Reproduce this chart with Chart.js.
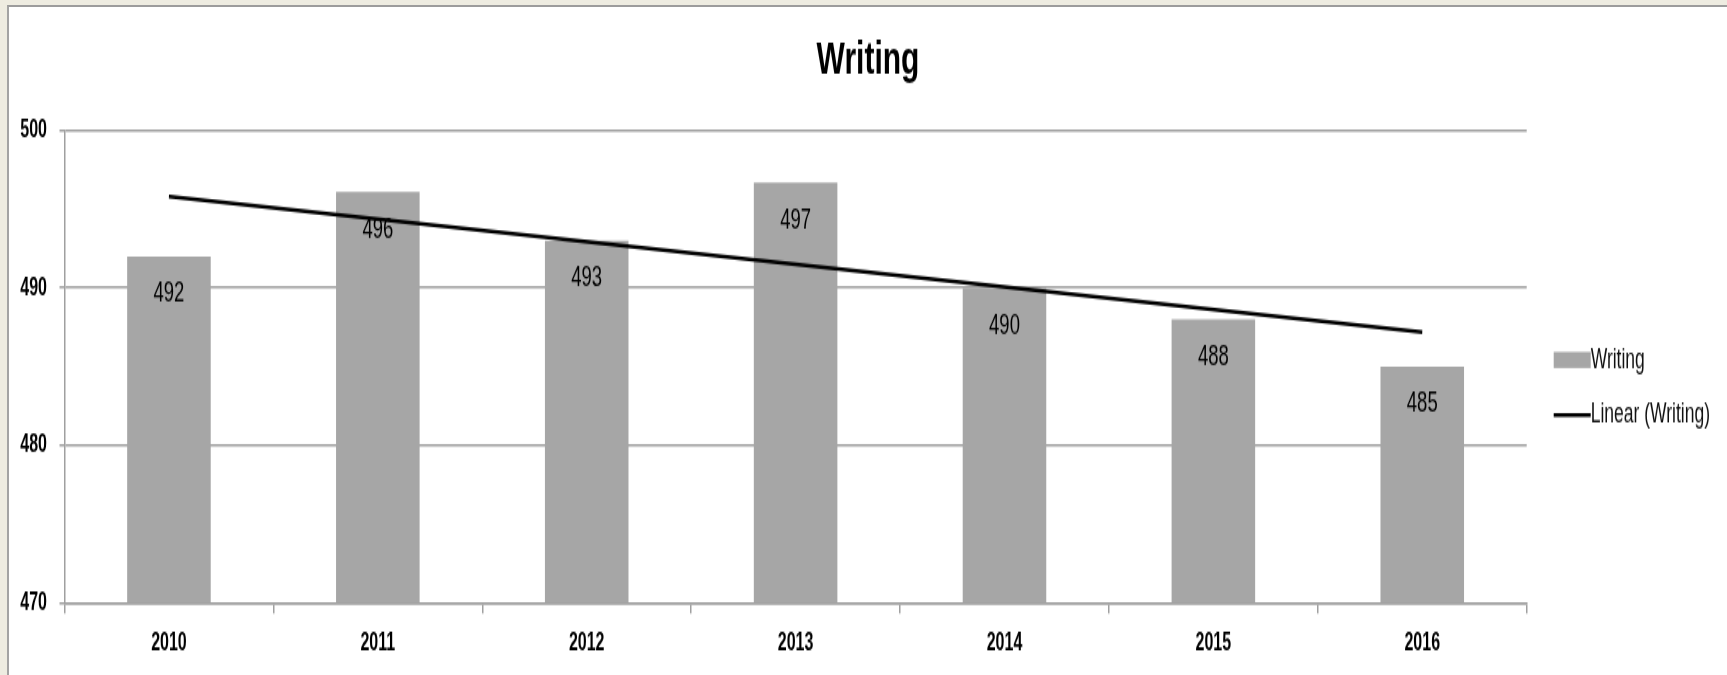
<!DOCTYPE html>
<html>
<head>
<meta charset="utf-8">
<title>Writing</title>
<script src="https://cdn.jsdelivr.net/npm/chart.js@4.4.1/dist/chart.umd.min.js"></script>
<style>
  html, body { margin: 0; padding: 0; overflow: hidden; background: #eeece1; }
  #panel {
    position: absolute; left: 7px; top: 5px;
    width: 1718px; height: 670px;
    background: #fff;
    border-left: 2px solid #a3a3a3;
    border-top: 2px solid #9c9c9c;
    overflow: hidden;
  }
  /* the original screenshot is stretched vertically, so the chart is too */
  #wrap {
    position: absolute; left: 0; top: 0;
    width: 1718px; height: 431px;
    transform: scaleY(1.55); transform-origin: 0 0;
  }
</style>
</head>
<body>
<div id="panel">
  <div id="wrap"><canvas id="writingChart"></canvas></div>
</div>

<script>
var years = ['2010', '2011', '2012', '2013', '2014', '2015', '2016'];
var writing = [492, 496.1, 493, 496.7, 490, 488, 485];
// Excel "Linear (Writing)" trendline, read at its two ends
var trend = [495.8, null, null, null, null, null, 487.2];
var yMin = 470, yMax = 500, yStep = 10;

var barGrey = '#a6a6a6';
var gridGrey = '#a0a0a0';
var fontFamily = "'Liberation Sans', Arial, sans-serif";

// value labels just inside the top of each bar (under the trendline)
var barLabels = {
    id: 'barLabels',
    afterDatasetDraw: function(chart, args) {
        if (args.meta.type !== 'bar') return;
        var ctx = chart.ctx;
        ctx.save();
        ctx.font = '18.5px ' + fontFamily;
        ctx.fillStyle = '#000';
        ctx.textAlign = 'center';
        ctx.textBaseline = 'middle';
        args.meta.data.forEach(function(bar, i) {
            ctx.fillText(Math.round(writing[i]), bar.x, bar.y + 24.3);
        });
        ctx.restore();
    }
};

// legend on the right, Excel style (box/line touching the text)
var sideLegend = {
    id: 'sideLegend',
    afterDraw: function(chart) {
        var ctx = chart.ctx;
        var area = chart.chartArea;
        var ds = chart.data.datasets;
        var x = area.right + 27;
        var y1 = area.top + 148;
        var y2 = area.top + 183.5;
        ctx.save();
        ctx.fillStyle = ds[0].backgroundColor;
        ctx.fillRect(x, y1 - 5.2, 37, 10.4);
        ctx.strokeStyle = ds[1].borderColor;
        ctx.lineWidth = 2.5;
        ctx.beginPath();
        ctx.moveTo(x, y2);
        ctx.lineTo(x + 37, y2);
        ctx.stroke();
        ctx.font = '17.5px ' + fontFamily;
        ctx.fillStyle = '#111';
        ctx.textAlign = 'left';
        ctx.textBaseline = 'middle';
        ctx.fillText(ds[0].label, x + 37, y1);
        ctx.fillText(ds[1].label, x + 37, y2);
        ctx.restore();
    }
};

var ctx = document.getElementById('writingChart').getContext('2d');

window.writingChart = new Chart(ctx, {
    type: 'bar',
    data: {
        labels: years,
        datasets: [{
            type: 'bar',
            label: 'Writing',
            data: writing,
            backgroundColor: barGrey,
            barPercentage: 0.4,
            categoryPercentage: 1,
            order: 1
        }, {
            type: 'line',
            label: 'Linear (Writing)',
            data: trend,
            borderColor: '#000',
            borderWidth: 2.5,
            pointRadius: 0,
            spanGaps: true,
            fill: false,
            order: 0
        }]
    },
    options: {
        responsive: true,
        maintainAspectRatio: false,
        animation: false,
        plugins: {
            legend: { display: false },
            tooltip: { enabled: false },
            title: {
                display: true,
                text: 'Writing',
                color: '#000',
                font: { family: fontFamily, size: 30, weight: 'bold' },
                padding: { top: 16.5, bottom: 27.2 }
            }
        },
        scales: {
            x: {
                grid: {
                    offset: true,
                    drawOnChartArea: false,
                    tickLength: 7,
                    color: gridGrey,
                    lineWidth: 1.5
                },
                border: { color: gridGrey, width: 1.5 },
                ticks: {
                    color: '#000',
                    padding: 9.5,
                    font: { family: fontFamily, size: 16, weight: 'bold' }
                },
                afterFit: function(scale) { scale.height = 46.7; }
            },
            y: {
                min: yMin,
                max: yMax,
                ticks: {
                    stepSize: yStep,
                    color: '#000',
                    padding: 12.5,
                    font: { family: fontFamily, size: 16, weight: 'bold' }
                },
                grid: {
                    tickLength: 5,
                    color: gridGrey,
                    lineWidth: 1.5
                },
                border: { color: gridGrey, width: 1.5 },
                afterFit: function(scale) { scale.width = 55.5; }
            },
            // empty right-hand axis, only keeps room for the legend
            legendRoom: {
                type: 'linear',
                position: 'right',
                grid: { display: false },
                border: { display: false },
                ticks: { display: false },
                afterFit: function(scale) { scale.width = 200.3; }
            }
        }
    },
    plugins: [barLabels, sideLegend]
});
</script>
</body>
</html>
